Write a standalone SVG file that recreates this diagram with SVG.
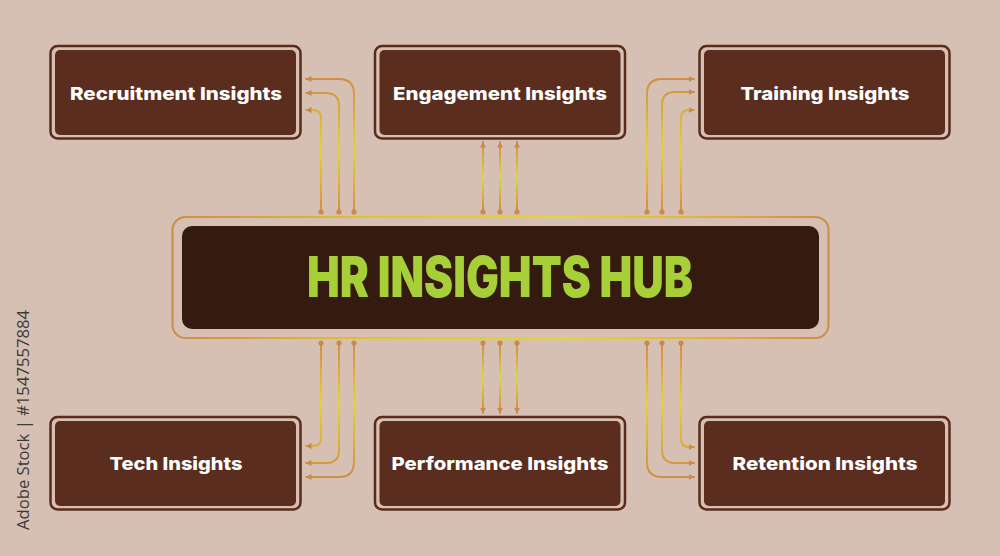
<svg xmlns="http://www.w3.org/2000/svg" width="1000" height="556" viewBox="0 0 1000 556">
  <style>
    .box-outer { fill: none; stroke: #5a2b1d; stroke-width: 2.5; }
    .box-inner { fill: #5a2d1f; }
    .label { font-family: Inter, "Open Sans", "Liberation Sans", sans-serif; font-weight: 800; font-size: 18px; fill: #ffffff; text-anchor: middle; }
    .conn { fill: none; stroke-width: 2; stroke-linecap: round; }
    .dot { fill: #c98a4a; }
  </style>
  <defs>
    <marker id="arrow" viewBox="0 0 6 6" refX="5.5" refY="3" markerWidth="6" markerHeight="6" markerUnits="userSpaceOnUse" orient="auto">
      <path d="M0,0 L6,3 L0,6 z" fill="#c98a4a"/>
    </marker>
    <linearGradient id="gTop" gradientUnits="userSpaceOnUse" x1="0" y1="78" x2="0" y2="213">
      <stop offset="0" stop-color="#cf8c45"/>
      <stop offset="0.55" stop-color="#e7d52c"/>
      <stop offset="0.8" stop-color="#e2a93a"/>
      <stop offset="1" stop-color="#cf8c45"/>
    </linearGradient>
    <linearGradient id="gBot" gradientUnits="userSpaceOnUse" x1="0" y1="343" x2="0" y2="478">
      <stop offset="0" stop-color="#cf8c45"/>
      <stop offset="0.2" stop-color="#e2a93a"/>
      <stop offset="0.45" stop-color="#e7d52c"/>
      <stop offset="1" stop-color="#cf8c45"/>
    </linearGradient>
    <linearGradient id="gMidTop" gradientUnits="userSpaceOnUse" x1="0" y1="142" x2="0" y2="212">
      <stop offset="0" stop-color="#cf8c45"/>
      <stop offset="0.5" stop-color="#dcd83a"/>
      <stop offset="1" stop-color="#cf8c45"/>
    </linearGradient>
    <linearGradient id="gMidBot" gradientUnits="userSpaceOnUse" x1="0" y1="343" x2="0" y2="413">
      <stop offset="0" stop-color="#cf8c45"/>
      <stop offset="0.5" stop-color="#dcd83a"/>
      <stop offset="1" stop-color="#cf8c45"/>
    </linearGradient>
    <linearGradient id="gFrame" gradientUnits="userSpaceOnUse" x1="172" y1="0" x2="829" y2="0">
      <stop offset="0" stop-color="#cf8c45"/>
      <stop offset="0.3" stop-color="#e3c22f"/>
      <stop offset="0.6" stop-color="#e4d82c"/>
      <stop offset="0.85" stop-color="#e2a93a"/>
      <stop offset="1" stop-color="#cf8c45"/>
    </linearGradient>
  </defs>

  <rect x="0" y="0" width="1000" height="556" fill="#d5c0b3"/>

  <text x="29" y="420" transform="rotate(-90 29 420)" font-family="'Open Sans', 'Liberation Sans', sans-serif" font-size="16" fill="#3d3a39" text-anchor="middle" textLength="220" lengthAdjust="spacingAndGlyphs">Adobe Stock | #1547557884</text>

  <g id="connectors">
    <!-- top-left -->
    <path class="conn" stroke="url(#gTop)" marker-end="url(#arrow)" d="M354,212 V94 Q354,79 339,79 H306"/>
    <path class="conn" stroke="url(#gTop)" marker-end="url(#arrow)" d="M339,212 V106 Q339,93 326,93 H306"/>
    <path class="conn" stroke="url(#gTop)" marker-end="url(#arrow)" d="M321,212 V118 Q321,110 313,110 H306"/>
    <!-- top-center -->
    <path class="conn" stroke="url(#gMidTop)" marker-end="url(#arrow)" d="M483,212 V142"/>
    <path class="conn" stroke="url(#gMidTop)" marker-end="url(#arrow)" d="M500,212 V142"/>
    <path class="conn" stroke="url(#gMidTop)" marker-end="url(#arrow)" d="M517,212 V142"/>
    <!-- top-right -->
    <path class="conn" stroke="url(#gTop)" marker-end="url(#arrow)" d="M647,212 V94 Q647,79 662,79 H694"/>
    <path class="conn" stroke="url(#gTop)" marker-end="url(#arrow)" d="M662,212 V105 Q662,92 675,92 H694"/>
    <path class="conn" stroke="url(#gTop)" marker-end="url(#arrow)" d="M681,212 V118 Q681,110 689,110 H694"/>
    <!-- bottom-left -->
    <path class="conn" stroke="url(#gBot)" marker-end="url(#arrow)" d="M321,343 V438 Q321,446 313,446 H306"/>
    <path class="conn" stroke="url(#gBot)" marker-end="url(#arrow)" d="M339,343 V450 Q339,463 326,463 H306"/>
    <path class="conn" stroke="url(#gBot)" marker-end="url(#arrow)" d="M354,343 V462 Q354,477 339,477 H306"/>
    <!-- bottom-center -->
    <path class="conn" stroke="url(#gMidBot)" marker-end="url(#arrow)" d="M483,343 V413"/>
    <path class="conn" stroke="url(#gMidBot)" marker-end="url(#arrow)" d="M500,343 V413"/>
    <path class="conn" stroke="url(#gMidBot)" marker-end="url(#arrow)" d="M517,343 V413"/>
    <!-- bottom-right -->
    <path class="conn" stroke="url(#gBot)" marker-end="url(#arrow)" d="M681,343 V439 Q681,447 689,447 H694"/>
    <path class="conn" stroke="url(#gBot)" marker-end="url(#arrow)" d="M662,343 V450 Q662,463 675,463 H694"/>
    <path class="conn" stroke="url(#gBot)" marker-end="url(#arrow)" d="M647,343 V462 Q647,477 662,477 H694"/>
    <!-- dots -->
    <circle class="dot" cx="321" cy="212" r="2.6"/>
    <circle class="dot" cx="339" cy="212" r="2.6"/>
    <circle class="dot" cx="354" cy="212" r="2.6"/>
    <circle class="dot" cx="483" cy="212" r="2.6"/>
    <circle class="dot" cx="500" cy="212" r="2.6"/>
    <circle class="dot" cx="517" cy="212" r="2.6"/>
    <circle class="dot" cx="647" cy="212" r="2.6"/>
    <circle class="dot" cx="662" cy="212" r="2.6"/>
    <circle class="dot" cx="681" cy="212" r="2.6"/>
    <circle class="dot" cx="321" cy="343" r="2.6"/>
    <circle class="dot" cx="339" cy="343" r="2.6"/>
    <circle class="dot" cx="354" cy="343" r="2.6"/>
    <circle class="dot" cx="483" cy="343" r="2.6"/>
    <circle class="dot" cx="500" cy="343" r="2.6"/>
    <circle class="dot" cx="517" cy="343" r="2.6"/>
    <circle class="dot" cx="647" cy="343" r="2.6"/>
    <circle class="dot" cx="662" cy="343" r="2.6"/>
    <circle class="dot" cx="681" cy="343" r="2.6"/>
  </g>

  <g id="hub">
    <rect x="172.5" y="217" width="656" height="121" rx="13" fill="none" stroke="url(#gFrame)" stroke-width="2"/>
    <rect x="182" y="226" width="637" height="103" rx="10" fill="#351a10"/>
    <text x="500" y="297" font-family="Inter, 'Liberation Sans', sans-serif" font-weight="900" font-size="56" fill="#a6cf38" text-anchor="middle" textLength="386" lengthAdjust="spacingAndGlyphs">HR INSIGHTS HUB</text>
  </g>

  <g id="recruitment">
    <rect class="box-outer" x="50.5" y="46" width="250" height="92.5" rx="7"/>
    <rect class="box-inner" x="55" y="50" width="241" height="85" rx="5"/>
    <text class="label" x="176" y="100" textLength="212" lengthAdjust="spacingAndGlyphs">Recruitment Insights</text>
  </g>

  <g id="engagement">
    <rect class="box-outer" x="375" y="46" width="250" height="92.5" rx="7"/>
    <rect class="box-inner" x="379.5" y="50" width="241" height="85" rx="5"/>
    <text class="label" x="500" y="100" textLength="214" lengthAdjust="spacingAndGlyphs">Engagement Insights</text>
  </g>

  <g id="training">
    <rect class="box-outer" x="699.5" y="46" width="250" height="92.5" rx="7"/>
    <rect class="box-inner" x="704" y="50" width="241" height="85" rx="5"/>
    <text class="label" x="825" y="100" textLength="169" lengthAdjust="spacingAndGlyphs">Training Insights</text>
  </g>

  <g id="tech">
    <rect class="box-outer" x="50.5" y="417" width="250" height="92.5" rx="7"/>
    <rect class="box-inner" x="55" y="421" width="241" height="85" rx="5"/>
    <text class="label" x="176" y="470" textLength="133" lengthAdjust="spacingAndGlyphs">Tech Insights</text>
  </g>

  <g id="performance">
    <rect class="box-outer" x="375" y="417" width="250" height="92.5" rx="7"/>
    <rect class="box-inner" x="379.5" y="421" width="241" height="85" rx="5"/>
    <text class="label" x="500" y="470" textLength="217" lengthAdjust="spacingAndGlyphs">Performance Insights</text>
  </g>

  <g id="retention">
    <rect class="box-outer" x="699.5" y="417" width="250" height="92.5" rx="7"/>
    <rect class="box-inner" x="704" y="421" width="241" height="85" rx="5"/>
    <text class="label" x="825" y="470" textLength="185" lengthAdjust="spacingAndGlyphs">Retention Insights</text>
  </g>
</svg>
